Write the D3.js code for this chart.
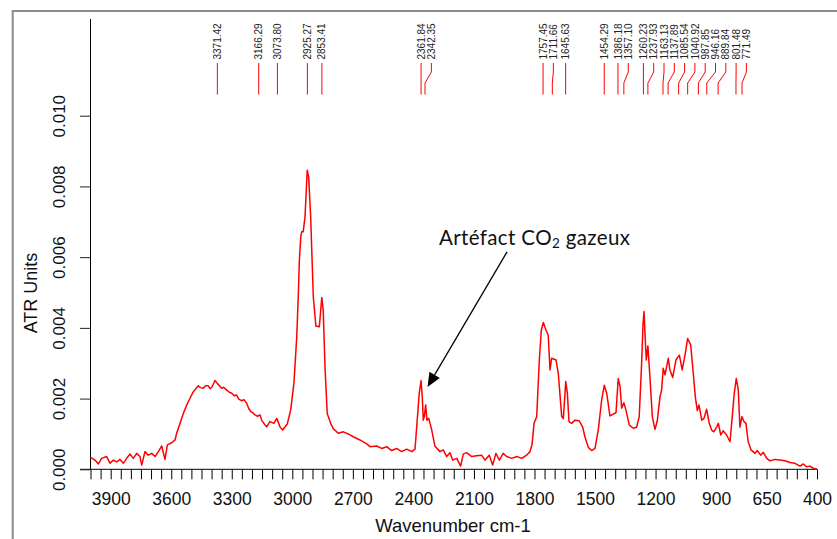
<!DOCTYPE html>
<html><head><meta charset="utf-8">
<script src="https://cdn.jsdelivr.net/npm/d3@7/dist/d3.min.js"></script>
<style>body{margin:0;background:#fff} svg{display:block}</style>
</head><body><svg id="c" width="837" height="539"></svg>
<script>
// ---- data ----
const wavenumbers = [4000,3978,3961,3945,3920,3903,3887,3870,3854,3837,3821,3804,3788,3771,3755,3746,3730,3714,3697,3680,3664,3647,3631,3619,3598,3581,3573,3556,3540,3523,3507,3491,3466,3455,3441,3430,3416,3408,3399,3383,3372,3350,3340,3325,3312,3300,3288,3276,3264,3251,3240,3226,3216,3206,3196,3185,3172,3160,3152,3135,3127,3111,3091,3077,3061,3048,3025,3008,2992,2978,2970,2965,2958,2953,2946,2937,2926,2919,2909,2896,2883,2866,2854,2847,2838,2827,2810,2797,2780,2772,2747,2723,2698,2665,2631,2615,2582,2557,2532,2508,2483,2458,2433,2408,2392,2381,2371,2362,2356,2351,2346,2339,2333,2324,2309,2293,2268,2252,2235,2219,2205,2185,2166,2153,2136,2111,2086,2062,2045,2024,2007,1991,1974,1955,1938,1913,1888,1863,1839,1822,1812,1802,1789,1776,1766,1756,1743,1732,1723,1715,1693,1682,1665,1657,1645,1637,1629,1616,1599,1578,1561,1550,1533,1517,1500,1484,1467,1454,1442,1426,1410,1396,1385,1376,1368,1357,1347,1330,1310,1294,1281,1269,1262,1257,1251,1246,1238,1228,1216,1203,1192,1178,1170,1162,1153,1137,1129,1115,1099,1082,1068,1054,1041,1026,1013,1003,993,985,971,960,947,934,922,911,897,889,877,865,848,831,820,810,800,790,782,772,762,752,741,727,707,696,679,666,649,633,608,583,559,534,509,484,468,451,435,418,405,400];
const absorbance = [0.00034,0.00026,0.00015,0.00031,0.00036,0.00017,0.00026,0.00021,0.00028,0.00017,0.00031,0.00043,0.00031,0.00045,0.00036,0.00012,0.00050,0.00040,0.00045,0.00036,0.00050,0.00066,0.00028,0.00069,0.00075,0.00083,0.00102,0.00130,0.00158,0.00182,0.00201,0.00219,0.00236,0.00231,0.00229,0.00236,0.00236,0.00228,0.00232,0.00251,0.00243,0.00229,0.00232,0.00224,0.00218,0.00215,0.00208,0.00210,0.00198,0.00194,0.00197,0.00187,0.00172,0.00163,0.00160,0.00154,0.00150,0.00154,0.00139,0.00125,0.00120,0.00135,0.00130,0.00144,0.00120,0.00111,0.00128,0.00168,0.00243,0.00375,0.00498,0.00592,0.00658,0.00672,0.00672,0.00714,0.00846,0.00827,0.00714,0.00488,0.00405,0.00403,0.00486,0.00451,0.00290,0.00158,0.00130,0.00115,0.00106,0.00102,0.00106,0.00100,0.00092,0.00083,0.00072,0.00064,0.00066,0.00059,0.00064,0.00053,0.00059,0.00050,0.00057,0.00050,0.00057,0.00139,0.00215,0.00251,0.00205,0.00139,0.00149,0.00182,0.00139,0.00144,0.00111,0.00065,0.00050,0.00055,0.00036,0.00047,0.00026,0.00031,0.00009,0.00043,0.00047,0.00036,0.00038,0.00040,0.00026,0.00040,0.00012,0.00045,0.00026,0.00045,0.00036,0.00031,0.00036,0.00031,0.00040,0.00050,0.00070,0.00130,0.00149,0.00309,0.00394,0.00415,0.00394,0.00380,0.00281,0.00314,0.00309,0.00271,0.00149,0.00144,0.00248,0.00215,0.00135,0.00130,0.00139,0.00137,0.00119,0.00092,0.00062,0.00053,0.00059,0.00111,0.00196,0.00238,0.00215,0.00151,0.00156,0.00160,0.00257,0.00234,0.00173,0.00188,0.00168,0.00125,0.00116,0.00119,0.00149,0.00300,0.00413,0.00446,0.00366,0.00309,0.00349,0.00262,0.00149,0.00113,0.00135,0.00205,0.00224,0.00286,0.00267,0.00314,0.00281,0.00260,0.00309,0.00323,0.00281,0.00323,0.00370,0.00352,0.00271,0.00205,0.00166,0.00182,0.00139,0.00144,0.00170,0.00130,0.00111,0.00106,0.00120,0.00130,0.00097,0.00109,0.00097,0.00078,0.00149,0.00215,0.00257,0.00224,0.00119,0.00149,0.00135,0.00130,0.00078,0.00055,0.00045,0.00053,0.00040,0.00048,0.00031,0.00024,0.00028,0.00026,0.00024,0.00019,0.00017,0.00009,0.00015,0.00007,0.00009,0.00003,0.00001,0.00002];
const peakLabels = ["3371.42","3166.29","3073.80","2925.27","2853.41","2361.84","2342.35","1757.45","1711.66","1645.63","1454.29","1386.18","1357.10","1260.23","1237.93","1163.13","1137.89","1085.54","1040.92","987.85","946.16","889.84","801.48","771.49"];
const xTickLabels = [3900,3600,3300,3000,2700,2400,2100,1800,1500,1200,900,650,400];
const yTickValues = [0.000,0.002,0.004,0.006,0.008,0.010];
const xTitle = "Wavenumber cm-1";
const yTitle = "ATR Units";
const noteMain = "Artéfact CO";
const noteSub = "2";
const noteEnd = " gazeux";
const noteTarget = {wn: 2330, a: 0.00233};

// ---- drawing ----
const svg = d3.select("#c");
const FONT = "'Liberation Sans', Arial, sans-serif";
const x = d3.scaleLinear().domain([4000, 400]).range([90.5, 817]);
const y = d3.scaleLinear().domain([0, 0.010]).range([469.3, 115.7]);
const data = wavenumbers.map((w, i) => ({w, a: absorbance[i]}));

// image frame (gray border)
svg.append("path").attr("d", "M12.7,539 V11 H837").attr("fill", "none")
  .attr("stroke", "#8c8c8c").attr("stroke-width", 2);

// x axis
const labelSet = new Set(xTickLabels);
const xAxis = d3.axisBottom(x).tickValues(d3.range(4000, 399, -50))
  .tickSize(10).tickSizeOuter(0).tickFormat(d => labelSet.has(d) ? d : "");
const gx = svg.append("g").attr("transform", `translate(0,${y(0)})`).call(xAxis);
gx.select(".domain").remove();
gx.selectAll(".tick line").attr("stroke", "#000").attr("stroke-width", 1);
gx.selectAll(".tick text").attr("y", 35.7).attr("dy", 0)
  .attr("font-family", FONT).attr("font-size", 17.5).attr("fill", "#111");
svg.append("line").attr("x1", 80).attr("x2", x(400)).attr("y1", y(0)).attr("y2", y(0))
  .attr("stroke", "#000").attr("stroke-width", 1);

// y axis
const yAxis = d3.axisLeft(y).tickValues(yTickValues).tickSize(10.5).tickSizeOuter(0)
  .tickFormat(d3.format(".3f"));
const gy = svg.append("g").attr("transform", `translate(${x(4000)},0)`).call(yAxis);
gy.select(".domain").remove();
gy.selectAll(".tick line").attr("stroke", "#222").attr("stroke-width", 1);
gy.selectAll(".tick text").attr("x", 0).attr("y", -25.5).attr("dy", 0)
  .attr("transform", "rotate(-90)").attr("text-anchor", "middle")
  .attr("font-family", FONT).attr("font-size", 17).attr("fill", "#111");
svg.append("line").attr("x1", x(4000)).attr("x2", x(4000)).attr("y1", 19).attr("y2", y(0))
  .attr("stroke", "#000").attr("stroke-width", 1);

// titles
svg.append("text").attr("x", 453).attr("y", 532).attr("text-anchor", "middle")
  .attr("font-family", FONT).attr("font-size", 18.5).attr("fill", "#111").text(xTitle);
svg.append("text").attr("transform", "translate(36.7,293) rotate(-90)").attr("text-anchor", "middle")
  .attr("font-family", FONT).attr("font-size", 18).attr("fill", "#111").text(yTitle);

// spectrum
svg.append("path").datum(data)
  .attr("d", d3.line().x(d => x(d.w)).y(d => y(d.a)))
  .attr("fill", "none").attr("stroke", "#ff0000").attr("stroke-width", 1.5)
  .attr("stroke-linejoin", "round");

// peak labels with spread positions
const minGap = 10.3;
let prev = -Infinity;
const peaks = peakLabels.map(s => {
  const px = x(+s);
  const lx = Math.max(px, prev + minGap);
  prev = lx;
  return {s, px, lx};
});
const pg = svg.append("g");
pg.selectAll("path").data(peaks).join("path")
  .attr("d", d => `M${d.lx},63 V72 L${d.px},83 V94.5`)
  .attr("fill", "none").attr("stroke", "#ff0000").attr("stroke-width", 1);
pg.selectAll("text").data(peaks).join("text")
  .attr("transform", d => `translate(${d.lx + 3.6},59.5) rotate(-90)`)
  .attr("font-family", FONT).attr("font-size", 10).attr("fill", "#222")
  .text(d => d.s);

// annotation
const tipX = x(noteTarget.wn), tipY = y(noteTarget.a);
const sx = tipX + 79.5, sy = tipY - 135;
const dx = tipX - sx, dy = tipY - sy, len = Math.hypot(dx, dy);
const ux = dx / len, uy = dy / len;
const hl = 14, hw = 6;
const bx = tipX - ux * hl, by = tipY - uy * hl;
svg.append("line").attr("x1", sx).attr("y1", sy).attr("x2", bx).attr("y2", by)
  .attr("stroke", "#000").attr("stroke-width", 1.3);
svg.append("path")
  .attr("d", `M${tipX},${tipY} L${bx - uy * hw},${by + ux * hw} L${bx + uy * hw},${by - ux * hw} Z`)
  .attr("fill", "#000");
const note = svg.append("text").attr("x", 439).attr("y", 245)
  .attr("textLength", 191).attr("lengthAdjust", "spacing")
  .attr("font-family", "Lato, 'Open Sans', sans-serif").attr("font-size", 20.5).attr("fill", "#111");
note.append("tspan").text(noteMain);
note.append("tspan").attr("font-size", 13.5).attr("dy", 3).text(noteSub);
note.append("tspan").attr("dy", -3).text(noteEnd);
</script>
</body></html>
